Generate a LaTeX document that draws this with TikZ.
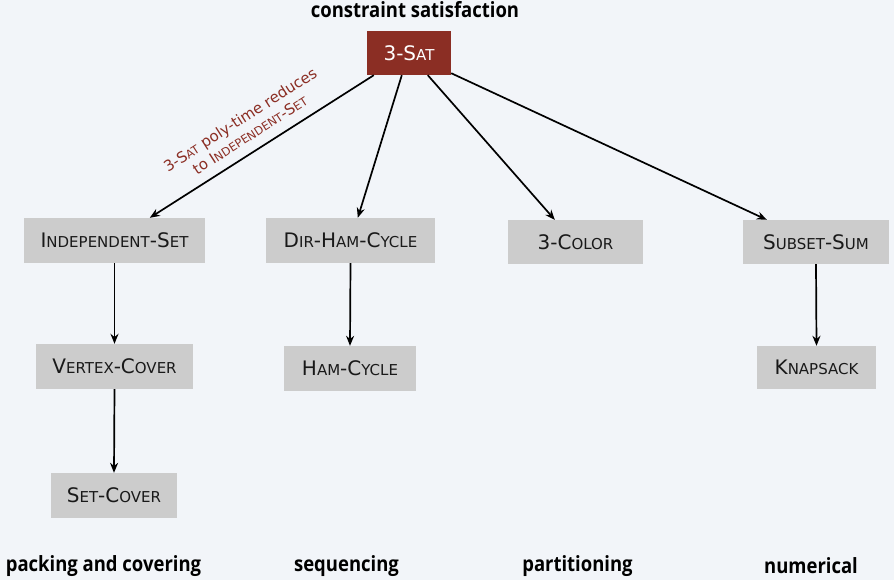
\documentclass[tikz,border=0pt]{standalone}
\usepackage{fontspec}
\setmainfont{DejaVu Sans}
\newfontfamily\labfont{Open Sans}
\usetikzlibrary{arrows.meta,calc}
\definecolor{bg}{HTML}{F2F5F9}
\definecolor{satred}{HTML}{8B2E24}
\definecolor{boxgray}{HTML}{CCCCCC}
\newcommand\smc[1]{{\fontsize{15}{15}\selectfont #1}}
\newcommand\smcl[1]{{\fontsize{11.5}{11.5}\selectfont #1}}
\newcommand\catbox[1]{\scalebox{0.88}[1]{#1}}
\begin{document}
\begin{tikzpicture}[x=1pt,y=-1pt,
  prob/.style={fill=boxgray, inner sep=0pt, font=\fontsize{20}{20}\selectfont, text=black!90},
  satbox/.style={prob, fill=satred, text=white},
  edge/.style={-{Stealth[length=10pt,width=8pt]}, line width=1.7pt},
  cat/.style={font=\labfont\bfseries\fontsize{21}{21}\selectfont, inner sep=0pt},
  note/.style={font=\fontsize{15}{18}\selectfont, text=satred, align=center, inner sep=0pt}]
\fill[bg] (0,0) rectangle (894,580);
\useasboundingbox (0,0) rectangle (894,580);

\node[cat] (top) at (415,10) {\catbox{constraint satisfaction}};

\node[satbox, minimum width=84pt, minimum height=44pt] (sat) at (409,53) {3-S\smc{AT}};

\node[prob, minimum width=181pt, minimum height=45pt] (ind) at (114.5,240.5) {I\smc{NDEPENDENT}-S\smc{ET}};
\node[prob, minimum width=169pt, minimum height=45pt] (dir) at (350.5,240.5) {D\smc{IR}-H\smc{AM}-C\smc{YCLE}};
\node[prob, minimum width=135pt, minimum height=44pt] (col) at (575.5,242) {3-C\smc{OLOR}};
\node[prob, minimum width=146pt, minimum height=44pt] (sub) at (816,242) {S\smc{UBSET}-S\smc{UM}};

\node[prob, minimum width=157pt, minimum height=45pt] (vc) at (114.5,366.5) {V\smc{ERTEX}-C\smc{OVER}};
\node[prob, minimum width=132pt, minimum height=45pt] (ham) at (350,368.5) {H\smc{AM}-C\smc{YCLE}};
\node[prob, minimum width=119pt, minimum height=43pt] (kn) at (816.5,367.5) {K\smc{NAPSACK}};
\node[prob, minimum width=126pt, minimum height=45pt] (sc) at (114,495.5) {S\smc{ET}-C\smc{OVER}};

\draw[edge] ($(sat.south west)+(7,0)$) -- ($(ind.north west)+(126,0)$);
\draw[edge] ($(sat.south west)+(35,0)$) -- ($(dir.north west)+(92,0)$);
\draw[edge] ($(sat.south west)+(61,0)$) -- ($(col.north west)+(47,0)$);
\draw[edge] ($(sat.south east)+(0,-2)$) -- ($(sub.north west)+(24,0)$);
\draw[edge] (ind.south) -- (vc.north);
\draw[edge] (vc.south) -- (sc.north);
\draw[edge] (dir.south) -- (ham.north);
\draw[edge] (sub.south) -- (kn.north);

\node[note, rotate=32.7] (lab) at (245,127) {3-S\smcl{AT} poly-time reduces\\to I\smcl{NDEPENDENT}-S\smcl{ET}};

\node[cat] (c1) at (103.5,566) {\catbox{packing and covering}};
\node[cat] (c2) at (346.5,566) {\catbox{sequencing}};
\node[cat] (c3) at (577.5,566) {\catbox{partitioning}};
\node[cat] (c4) at (811,566) {\catbox{numerical}};
\end{tikzpicture}
\end{document}
